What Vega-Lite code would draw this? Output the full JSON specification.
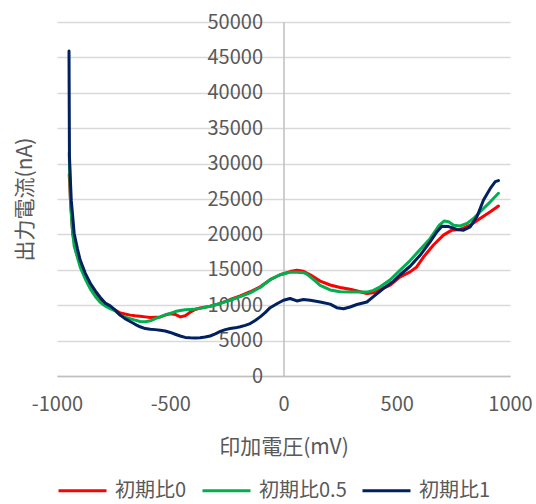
{
  "$schema": "https://vega.github.io/schema/vega-lite/v6.json",
  "width": 453,
  "height": 354,
  "autosize": {"type": "none"},
  "padding": {"left": 57, "top": 22, "right": 26, "bottom": 128},
  "background": "white",
  "config": {
    "font": "Noto Sans CJK JP",
    "view": {"stroke": null},
    "axis": {"labelFont": "Noto Sans CJK JP", "titleFont": "Noto Sans CJK JP", "labelColor": "#595959", "titleColor": "#595959", "labelFontSize": 20, "titleFontSize": 21, "titleFontWeight": "normal"},
    "legend": {"labelFont": "Noto Sans CJK JP", "labelColor": "#595959", "labelFontSize": 20}
  },
  "data": {"values": [
    {"V": -946, "I": 28500, "s": "初期比0"},
    {"V": -940, "I": 24500, "s": "初期比0"},
    {"V": -930, "I": 20000, "s": "初期比0"},
    {"V": -915, "I": 17500, "s": "初期比0"},
    {"V": -898, "I": 15800, "s": "初期比0"},
    {"V": -875, "I": 14000, "s": "初期比0"},
    {"V": -853, "I": 12700, "s": "初期比0"},
    {"V": -830, "I": 11600, "s": "初期比0"},
    {"V": -809, "I": 10700, "s": "初期比0"},
    {"V": -787, "I": 10100, "s": "初期比0"},
    {"V": -765, "I": 9700, "s": "初期比0"},
    {"V": -743, "I": 9300, "s": "初期比0"},
    {"V": -721, "I": 8900, "s": "初期比0"},
    {"V": -700, "I": 8750, "s": "初期比0"},
    {"V": -677, "I": 8600, "s": "初期比0"},
    {"V": -655, "I": 8500, "s": "初期比0"},
    {"V": -633, "I": 8450, "s": "初期比0"},
    {"V": -610, "I": 8350, "s": "初期比0"},
    {"V": -588, "I": 8250, "s": "初期比0"},
    {"V": -566, "I": 8300, "s": "初期比0"},
    {"V": -544, "I": 8350, "s": "初期比0"},
    {"V": -522, "I": 8600, "s": "初期比0"},
    {"V": -500, "I": 8800, "s": "初期比0"},
    {"V": -478, "I": 8700, "s": "初期比0"},
    {"V": -456, "I": 8350, "s": "初期比0"},
    {"V": -434, "I": 8500, "s": "初期比0"},
    {"V": -412, "I": 9000, "s": "初期比0"},
    {"V": -390, "I": 9400, "s": "初期比0"},
    {"V": -368, "I": 9600, "s": "初期比0"},
    {"V": -324, "I": 9850, "s": "初期比0"},
    {"V": -279, "I": 10250, "s": "初期比0"},
    {"V": -235, "I": 10800, "s": "初期比0"},
    {"V": -191, "I": 11300, "s": "初期比0"},
    {"V": -147, "I": 11900, "s": "初期比0"},
    {"V": -103, "I": 12600, "s": "初期比0"},
    {"V": -59, "I": 13600, "s": "初期比0"},
    {"V": -15, "I": 14300, "s": "初期比0"},
    {"V": 29, "I": 14750, "s": "初期比0"},
    {"V": 59, "I": 14950, "s": "初期比0"},
    {"V": 88, "I": 14800, "s": "初期比0"},
    {"V": 118, "I": 14300, "s": "初期比0"},
    {"V": 162, "I": 13400, "s": "初期比0"},
    {"V": 206, "I": 12850, "s": "初期比0"},
    {"V": 250, "I": 12500, "s": "初期比0"},
    {"V": 294, "I": 12250, "s": "初期比0"},
    {"V": 339, "I": 11900, "s": "初期比0"},
    {"V": 368, "I": 11650, "s": "初期比0"},
    {"V": 397, "I": 11750, "s": "初期比0"},
    {"V": 427, "I": 12200, "s": "初期比0"},
    {"V": 471, "I": 12830, "s": "初期比0"},
    {"V": 515, "I": 14000, "s": "初期比0"},
    {"V": 559, "I": 14700, "s": "初期比0"},
    {"V": 588, "I": 15400, "s": "初期比0"},
    {"V": 618, "I": 16800, "s": "初期比0"},
    {"V": 662, "I": 18500, "s": "初期比0"},
    {"V": 706, "I": 19900, "s": "初期比0"},
    {"V": 743, "I": 20600, "s": "初期比0"},
    {"V": 780, "I": 20700, "s": "初期比0"},
    {"V": 824, "I": 21300, "s": "初期比0"},
    {"V": 868, "I": 22250, "s": "初期比0"},
    {"V": 913, "I": 23200, "s": "初期比0"},
    {"V": 949, "I": 24000, "s": "初期比0"},

    {"V": -946, "I": 31500, "s": "初期比0.5"},
    {"V": -941, "I": 25000, "s": "初期比0.5"},
    {"V": -933, "I": 21000, "s": "初期比0.5"},
    {"V": -924, "I": 18300, "s": "初期比0.5"},
    {"V": -910, "I": 16800, "s": "初期比0.5"},
    {"V": -898, "I": 15400, "s": "初期比0.5"},
    {"V": -875, "I": 13700, "s": "初期比0.5"},
    {"V": -853, "I": 12300, "s": "初期比0.5"},
    {"V": -830, "I": 11200, "s": "初期比0.5"},
    {"V": -809, "I": 10400, "s": "初期比0.5"},
    {"V": -787, "I": 9900, "s": "初期比0.5"},
    {"V": -765, "I": 9500, "s": "初期比0.5"},
    {"V": -743, "I": 9200, "s": "初期比0.5"},
    {"V": -721, "I": 8600, "s": "初期比0.5"},
    {"V": -700, "I": 8300, "s": "初期比0.5"},
    {"V": -677, "I": 8100, "s": "初期比0.5"},
    {"V": -655, "I": 7900, "s": "初期比0.5"},
    {"V": -633, "I": 7700, "s": "初期比0.5"},
    {"V": -610, "I": 7650, "s": "初期比0.5"},
    {"V": -588, "I": 7800, "s": "初期比0.5"},
    {"V": -566, "I": 8100, "s": "初期比0.5"},
    {"V": -544, "I": 8350, "s": "初期比0.5"},
    {"V": -522, "I": 8650, "s": "初期比0.5"},
    {"V": -500, "I": 8850, "s": "初期比0.5"},
    {"V": -478, "I": 9100, "s": "初期比0.5"},
    {"V": -456, "I": 9250, "s": "初期比0.5"},
    {"V": -434, "I": 9350, "s": "初期比0.5"},
    {"V": -412, "I": 9400, "s": "初期比0.5"},
    {"V": -390, "I": 9450, "s": "初期比0.5"},
    {"V": -368, "I": 9550, "s": "初期比0.5"},
    {"V": -324, "I": 9850, "s": "初期比0.5"},
    {"V": -279, "I": 10250, "s": "初期比0.5"},
    {"V": -235, "I": 10700, "s": "初期比0.5"},
    {"V": -191, "I": 11200, "s": "初期比0.5"},
    {"V": -147, "I": 11750, "s": "初期比0.5"},
    {"V": -103, "I": 12500, "s": "初期比0.5"},
    {"V": -59, "I": 13600, "s": "初期比0.5"},
    {"V": -15, "I": 14300, "s": "初期比0.5"},
    {"V": 29, "I": 14650, "s": "初期比0.5"},
    {"V": 59, "I": 14650, "s": "初期比0.5"},
    {"V": 88, "I": 14600, "s": "初期比0.5"},
    {"V": 103, "I": 14400, "s": "初期比0.5"},
    {"V": 133, "I": 13600, "s": "初期比0.5"},
    {"V": 162, "I": 12800, "s": "初期比0.5"},
    {"V": 206, "I": 12150, "s": "初期比0.5"},
    {"V": 250, "I": 11900, "s": "初期比0.5"},
    {"V": 294, "I": 11850, "s": "初期比0.5"},
    {"V": 339, "I": 11850, "s": "初期比0.5"},
    {"V": 368, "I": 11850, "s": "初期比0.5"},
    {"V": 397, "I": 12100, "s": "初期比0.5"},
    {"V": 427, "I": 12600, "s": "初期比0.5"},
    {"V": 471, "I": 13600, "s": "初期比0.5"},
    {"V": 515, "I": 14950, "s": "初期比0.5"},
    {"V": 559, "I": 16300, "s": "初期比0.5"},
    {"V": 603, "I": 17850, "s": "初期比0.5"},
    {"V": 647, "I": 19400, "s": "初期比0.5"},
    {"V": 688, "I": 21300, "s": "初期比0.5"},
    {"V": 710, "I": 21900, "s": "初期比0.5"},
    {"V": 729, "I": 21800, "s": "初期比0.5"},
    {"V": 751, "I": 21300, "s": "初期比0.5"},
    {"V": 780, "I": 21200, "s": "初期比0.5"},
    {"V": 810, "I": 21550, "s": "初期比0.5"},
    {"V": 839, "I": 22250, "s": "初期比0.5"},
    {"V": 876, "I": 23450, "s": "初期比0.5"},
    {"V": 913, "I": 24600, "s": "初期比0.5"},
    {"V": 949, "I": 25800, "s": "初期比0.5"},

    {"V": -947, "I": 45900, "s": "初期比1"},
    {"V": -946, "I": 38000, "s": "初期比1"},
    {"V": -945, "I": 31000, "s": "初期比1"},
    {"V": -940, "I": 27000, "s": "初期比1"},
    {"V": -937, "I": 24800, "s": "初期比1"},
    {"V": -924, "I": 20100, "s": "初期比1"},
    {"V": -910, "I": 18000, "s": "初期比1"},
    {"V": -898, "I": 16400, "s": "初期比1"},
    {"V": -875, "I": 14500, "s": "初期比1"},
    {"V": -853, "I": 13100, "s": "初期比1"},
    {"V": -830, "I": 12000, "s": "初期比1"},
    {"V": -809, "I": 11100, "s": "初期比1"},
    {"V": -787, "I": 10300, "s": "初期比1"},
    {"V": -765, "I": 9900, "s": "初期比1"},
    {"V": -743, "I": 9300, "s": "初期比1"},
    {"V": -721, "I": 8600, "s": "初期比1"},
    {"V": -700, "I": 8100, "s": "初期比1"},
    {"V": -677, "I": 7700, "s": "初期比1"},
    {"V": -655, "I": 7300, "s": "初期比1"},
    {"V": -633, "I": 6950, "s": "初期比1"},
    {"V": -610, "I": 6700, "s": "初期比1"},
    {"V": -588, "I": 6600, "s": "初期比1"},
    {"V": -566, "I": 6550, "s": "初期比1"},
    {"V": -544, "I": 6450, "s": "初期比1"},
    {"V": -522, "I": 6350, "s": "初期比1"},
    {"V": -500, "I": 6150, "s": "初期比1"},
    {"V": -478, "I": 5900, "s": "初期比1"},
    {"V": -456, "I": 5650, "s": "初期比1"},
    {"V": -434, "I": 5450, "s": "初期比1"},
    {"V": -412, "I": 5400, "s": "初期比1"},
    {"V": -390, "I": 5380, "s": "初期比1"},
    {"V": -368, "I": 5400, "s": "初期比1"},
    {"V": -346, "I": 5500, "s": "初期比1"},
    {"V": -324, "I": 5650, "s": "初期比1"},
    {"V": -301, "I": 5950, "s": "初期比1"},
    {"V": -279, "I": 6300, "s": "初期比1"},
    {"V": -257, "I": 6550, "s": "初期比1"},
    {"V": -235, "I": 6700, "s": "初期比1"},
    {"V": -213, "I": 6800, "s": "初期比1"},
    {"V": -191, "I": 6950, "s": "初期比1"},
    {"V": -169, "I": 7150, "s": "初期比1"},
    {"V": -147, "I": 7400, "s": "初期比1"},
    {"V": -125, "I": 7850, "s": "初期比1"},
    {"V": -103, "I": 8350, "s": "初期比1"},
    {"V": -81, "I": 8950, "s": "初期比1"},
    {"V": -59, "I": 9650, "s": "初期比1"},
    {"V": -29, "I": 10200, "s": "初期比1"},
    {"V": 0, "I": 10700, "s": "初期比1"},
    {"V": 29, "I": 10950, "s": "初期比1"},
    {"V": 59, "I": 10600, "s": "初期比1"},
    {"V": 88, "I": 10800, "s": "初期比1"},
    {"V": 118, "I": 10700, "s": "初期比1"},
    {"V": 162, "I": 10450, "s": "初期比1"},
    {"V": 206, "I": 10150, "s": "初期比1"},
    {"V": 235, "I": 9650, "s": "初期比1"},
    {"V": 265, "I": 9500, "s": "初期比1"},
    {"V": 294, "I": 9750, "s": "初期比1"},
    {"V": 324, "I": 10100, "s": "初期比1"},
    {"V": 368, "I": 10450, "s": "初期比1"},
    {"V": 397, "I": 11200, "s": "初期比1"},
    {"V": 441, "I": 12350, "s": "初期比1"},
    {"V": 486, "I": 13400, "s": "初期比1"},
    {"V": 515, "I": 14300, "s": "初期比1"},
    {"V": 559, "I": 15500, "s": "初期比1"},
    {"V": 603, "I": 17050, "s": "初期比1"},
    {"V": 647, "I": 18950, "s": "初期比1"},
    {"V": 677, "I": 20350, "s": "初期比1"},
    {"V": 699, "I": 21150, "s": "初期比1"},
    {"V": 729, "I": 21100, "s": "初期比1"},
    {"V": 766, "I": 20700, "s": "初期比1"},
    {"V": 795, "I": 20600, "s": "初期比1"},
    {"V": 824, "I": 21050, "s": "初期比1"},
    {"V": 854, "I": 22500, "s": "初期比1"},
    {"V": 883, "I": 24850, "s": "初期比1"},
    {"V": 913, "I": 26500, "s": "初期比1"},
    {"V": 935, "I": 27450, "s": "初期比1"},
    {"V": 949, "I": 27600, "s": "初期比1"}
  ]},
  "mark": {"type": "line", "strokeWidth": 3, "strokeJoin": "round", "strokeCap": "round"},
  "encoding": {
    "x": {
      "field": "V", "type": "quantitative",
      "scale": {"domain": [-1000, 1000], "nice": false},
      "axis": {"values": [-1000, -500, 0, 500, 1000], "labelExpr": "datum.value + ''", "title": "印加電圧(mV)", "grid": false, "ticks": false, "labelPadding": 18, "titlePadding": 22, "domainColor": "#bfbfbf", "domainWidth": 1.5, "labelFlush": false}
    },
    "y": {
      "field": "I", "type": "quantitative",
      "scale": {"domain": [0, 50000], "nice": false},
      "axis": {"values": [0, 5000, 10000, 15000, 20000, 25000, 30000, 35000, 40000, 45000, 50000], "labelExpr": "datum.value + ''", "offset": -226.5, "ticks": false, "labelPadding": 21, "title": "出力電流(nA)", "titleX": -258, "titleY": 177, "titleAngle": -90, "titleBaseline": "middle", "titleAlign": "center", "grid": true, "gridColor": "#d9d9d9", "gridWidth": 1.5, "domainColor": "#bfbfbf", "domainWidth": 1.5}
    },
    "color": {
      "field": "s", "type": "nominal",
      "scale": {"domain": ["初期比0", "初期比0.5", "初期比1"], "range": ["#ff0000", "#00b050", "#002060"]},
      "legend": {"title": null, "orient": "none", "direction": "horizontal", "legendX": 0, "legendY": 443, "symbolType": "stroke", "symbolSize": 2304, "symbolStrokeWidth": 3, "labelOffset": 7, "columnPadding": 9}
    }
  }
}
